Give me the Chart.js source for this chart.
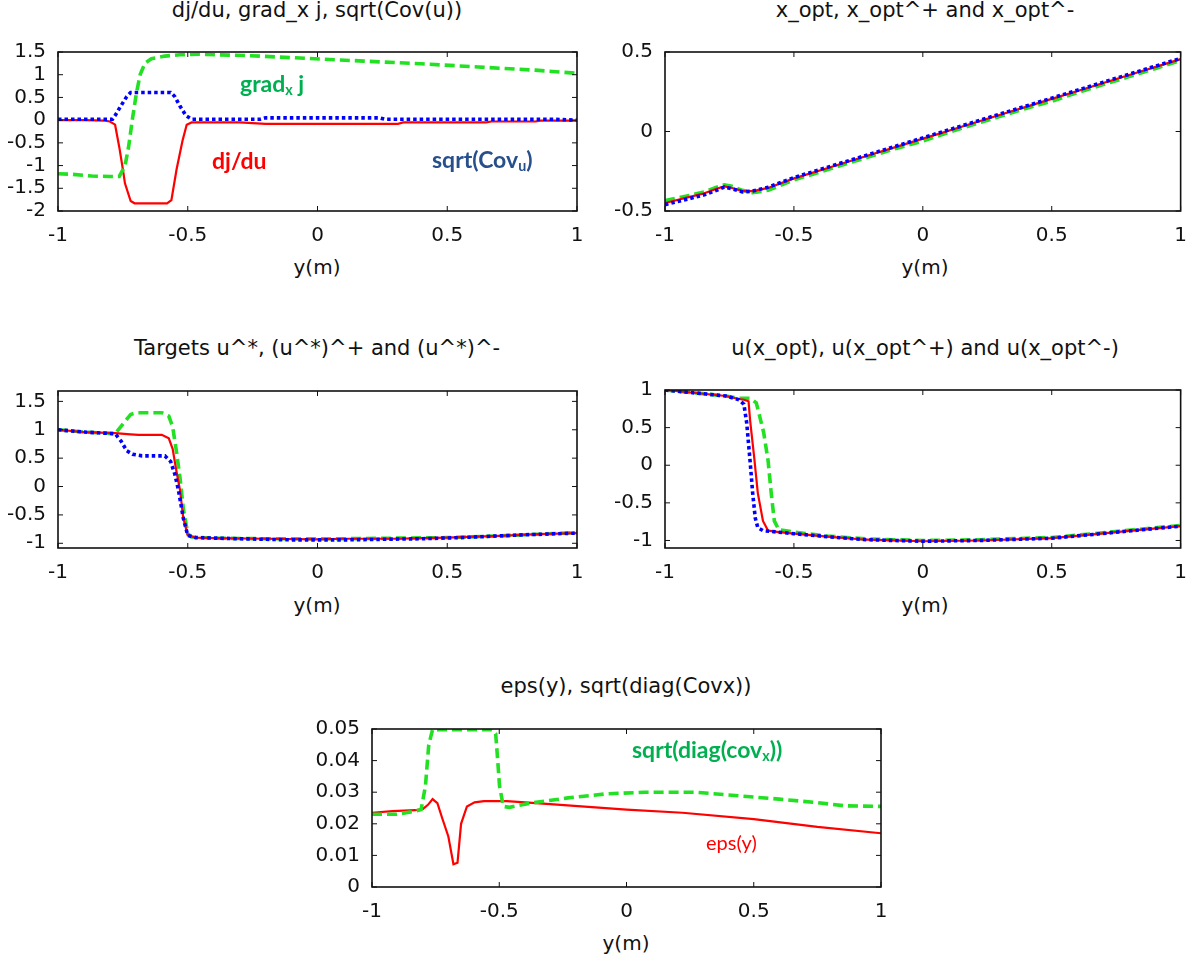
<!DOCTYPE html>
<html>
<head>
<meta charset="utf-8">
<script src="https://cdn.jsdelivr.net/npm/chart.js@4.4.1/dist/chart.umd.min.js"></script>
<style>
  html, body { margin: 0; padding: 0; background: #fff; }
  #wrap { position: relative; width: 1200px; height: 963px; overflow: hidden; }
  canvas { position: absolute; }
  .t { position: absolute; white-space: nowrap; font-family: "DejaVu Sans", sans-serif; color: #111; transform: translateX(-50%); }
  .title { font-size: 21px; line-height: 21px; }
  .ax { font-size: 20px; line-height: 20px; }
  .ann { position: absolute; white-space: nowrap; font-family: Lato, "Open Sans", sans-serif; font-size: 23px; line-height: 23px; font-weight: bold; }
  .ann sub { font-size: 0.62em; vertical-align: -0.2em; line-height: 0; }
</style>
</head>
<body>
<div id="wrap">
  <canvas id="c1"></canvas>
  <canvas id="c2"></canvas>
  <canvas id="c3"></canvas>
  <canvas id="c4"></canvas>
  <canvas id="c5"></canvas>

  <div class="t title" style="left:317px; top:0px;">dj/du, grad_x j, sqrt(Cov(u))</div>
  <div class="t title" style="left:925px; top:0px;">x_opt, x_opt^+ and x_opt^-</div>
  <div class="t title" style="left:317px; top:338px;">Targets u^*, (u^*)^+ and (u^*)^-</div>
  <div class="t title" style="left:925px; top:338px;">u(x_opt), u(x_opt^+) and u(x_opt^-)</div>
  <div class="t title" style="left:626px; top:676px;">eps(y), sqrt(diag(Covx))</div>

  <div class="t ax" style="left:317px; top:257px;">y(m)</div>
  <div class="t ax" style="left:925px; top:257px;">y(m)</div>
  <div class="t ax" style="left:317px; top:595px;">y(m)</div>
  <div class="t ax" style="left:925px; top:595px;">y(m)</div>
  <div class="t ax" style="left:626px; top:933px;">y(m)</div>

  <div class="ann" style="left:240px; top:72px; color:#00b050;">grad<sub>x</sub> j</div>
  <div class="ann" style="left:212px; top:149px; color:#ff0000;">dj/du</div>
  <div class="ann" style="left:432px; top:148px; color:#264f8c;">sqrt(Cov<sub>u</sub>)</div>
  <div class="ann" style="left:632px; top:738px; color:#00b050;">sqrt(diag(cov<sub>x</sub>))</div>
  <div class="ann" style="left:706px; top:832px; color:#ff0000; font-weight:normal; font-size:20px; line-height:20px;">eps(y)</div>
</div>
<script>
// ---------- data ----------
const xTicks = [-1, -0.5, 0, 0.5, 1];

// Panel 1: dj/du, grad_x j, sqrt(Cov(u))
const p1RedX  = [-1, -0.9, -0.82, -0.8, -0.78, -0.764, -0.75, -0.742, -0.72, -0.705, -0.65, -0.58, -0.563, -0.543, -0.52, -0.504, -0.485, -0.4, -0.3, -0.2, 0, 0.2, 0.31, 0.33, 0.5, 0.65, 0.67, 0.84, 0.86, 1];
const p1RedY  = [0, 0, -0.01, -0.03, -0.10, -0.59, -1.08, -1.39, -1.78, -1.83, -1.83, -1.83, -1.76, -1.08, -0.45, -0.10, -0.05, -0.05, -0.05, -0.08, -0.08, -0.08, -0.08, -0.05, -0.05, -0.05, -0.03, -0.03, -0.01, -0.01];
const p1BlueX = [-1, -0.9, -0.79, -0.78, -0.757, -0.735, -0.72, -0.65, -0.566, -0.55, -0.53, -0.507, -0.485, -0.4, -0.22, -0.2, 0, 0.24, 0.26, 0.5, 0.9, 1];
const p1BlueY = [0.02, 0.02, 0.02, 0.10, 0.32, 0.52, 0.61, 0.61, 0.61, 0.52, 0.31, 0.10, 0.02, 0.02, 0.02, 0.05, 0.05, 0.05, 0.02, 0.02, 0.02, 0.0];
const p1GreenX = [-1, -0.95, -0.87, -0.8, -0.764, -0.742, -0.728, -0.713, -0.698, -0.683, -0.664, -0.64, -0.588, -0.53, -0.455, -0.264, -0.043, 0.178, 0.40, 0.62, 0.84, 1];
const p1GreenY = [-1.18, -1.19, -1.23, -1.24, -1.24, -1.01, -0.59, 0.03, 0.59, 1.01, 1.26, 1.35, 1.41, 1.44, 1.45, 1.42, 1.36, 1.30, 1.24, 1.17, 1.10, 1.03];
const p1YTicks = [-2, -1.5, -1, -0.5, 0, 0.5, 1, 1.5];

// Panel 2: x_opt, x_opt^+, x_opt^-
const p2X     = [-1, -0.9, -0.85, -0.8, -0.77, -0.74, -0.7, -0.66, -0.6, -0.5, -0.4, -0.3, -0.2, -0.1, 0, 0.1, 0.2, 0.3, 0.4, 0.5, 0.6, 0.7, 0.8, 0.9, 1];
const p2Blue  = [-0.46, -0.42, -0.40, -0.37, -0.35, -0.36, -0.38, -0.375, -0.35, -0.29, -0.24, -0.19, -0.14, -0.09, -0.04, 0.01, 0.06, 0.11, 0.16, 0.21, 0.26, 0.31, 0.36, 0.41, 0.46];
const p2Red   = [-0.45, -0.41, -0.39, -0.36, -0.345, -0.355, -0.375, -0.375, -0.355, -0.295, -0.245, -0.195, -0.145, -0.095, -0.045, 0.005, 0.055, 0.105, 0.155, 0.205, 0.255, 0.305, 0.355, 0.405, 0.455];
const p2Green = [-0.435, -0.40, -0.38, -0.35, -0.335, -0.345, -0.37, -0.385, -0.37, -0.305, -0.255, -0.205, -0.155, -0.105, -0.06, -0.005, 0.045, 0.095, 0.145, 0.19, 0.245, 0.295, 0.345, 0.395, 0.446];
const p2YTicks = [-0.5, 0, 0.5];

// Panel 3: targets
const p3RedX  = [-1, -0.9, -0.78, -0.72, -0.69, -0.6, -0.573, -0.558, -0.546, -0.53, -0.517, -0.5, -0.47, -0.4, -0.2, 0, 0.1, 0.3, 0.5, 0.7, 0.85, 1];
const p3RedY  = [1.0, 0.96, 0.94, 0.92, 0.91, 0.91, 0.85, 0.66, 0.33, -0.06, -0.56, -0.86, -0.90, -0.91, -0.92, -0.93, -0.92, -0.92, -0.90, -0.87, -0.84, -0.82];
const p3GreenX = [-1, -0.9, -0.78, -0.75, -0.72, -0.698, -0.6, -0.573, -0.558, -0.543, -0.53, -0.517, -0.5, -0.485, -0.4, -0.2, 0, 0.1, 0.3, 0.5, 0.7, 0.85, 1];
const p3GreenY = [1.0, 0.96, 0.93, 1.10, 1.27, 1.30, 1.30, 1.24, 1.05, 0.60, 0.16, -0.39, -0.83, -0.89, -0.91, -0.92, -0.92, -0.92, -0.91, -0.90, -0.87, -0.84, -0.81];
const p3BlueX = [-1, -0.9, -0.78, -0.757, -0.735, -0.713, -0.676, -0.588, -0.566, -0.55, -0.536, -0.517, -0.5, -0.47, -0.3, -0.1, 0, 0.1, 0.4, 0.55, 0.65, 0.8, 1];
const p3BlueY = [1.0, 0.96, 0.93, 0.80, 0.63, 0.57, 0.54, 0.54, 0.44, 0.22, -0.06, -0.56, -0.86, -0.90, -0.92, -0.94, -0.94, -0.94, -0.92, -0.90, -0.88, -0.85, -0.82];
const p3YTicks = [-1, -0.5, 0, 0.5, 1, 1.5];

// Panel 4: u(x_opt), u(x_opt^+), u(x_opt^-)
const p4BlueX = [-1, -0.88, -0.764, -0.713, -0.694, -0.683, -0.67, -0.66, -0.65, -0.64, -0.62, -0.558, -0.5, -0.37, -0.22, 0, 0.22, 0.5, 0.66, 0.81, 1];
const p4BlueY = [1.0, 0.96, 0.92, 0.87, 0.81, 0.56, 0.055, -0.37, -0.70, -0.83, -0.87, -0.89, -0.91, -0.95, -0.99, -1.01, -1.00, -0.97, -0.92, -0.87, -0.81];
const p4RedX  = [-1, -0.88, -0.764, -0.713, -0.694, -0.676, -0.67, -0.654, -0.64, -0.62, -0.6, -0.558, -0.5, -0.37, -0.22, 0, 0.22, 0.5, 0.66, 0.81, 1];
const p4RedY  = [1.0, 0.96, 0.92, 0.88, 0.87, 0.85, 0.60, 0.10, -0.37, -0.74, -0.87, -0.89, -0.91, -0.95, -0.99, -1.01, -1.00, -0.97, -0.92, -0.87, -0.81];
const p4GreenX = [-1, -0.88, -0.764, -0.713, -0.67, -0.646, -0.632, -0.617, -0.6, -0.588, -0.576, -0.558, -0.53, -0.5, -0.37, -0.22, 0, 0.22, 0.5, 0.66, 0.81, 1];
const p4GreenY = [1.0, 0.96, 0.92, 0.89, 0.89, 0.83, 0.64, 0.43, 0.055, -0.37, -0.74, -0.86, -0.87, -0.89, -0.94, -0.98, -1.00, -0.99, -0.96, -0.91, -0.86, -0.80];
const p4YTicks = [-1, -0.5, 0, 0.5, 1];

// Panel 5: eps(y), sqrt(diag(Covx))
const p5RedX  = [-1, -0.92, -0.83, -0.80, -0.78, -0.762, -0.743, -0.725, -0.70, -0.68, -0.664, -0.65, -0.627, -0.597, -0.56, -0.47, -0.30, 0, 0.22, 0.5, 0.75, 1];
const p5RedY  = [0.0235, 0.024, 0.0243, 0.0247, 0.026, 0.0278, 0.0265, 0.022, 0.016, 0.0072, 0.0077, 0.020, 0.0255, 0.0268, 0.0272, 0.0272, 0.0262, 0.0245, 0.0235, 0.0215, 0.019, 0.017];
const p5GreenX = [-1, -0.905, -0.83, -0.807, -0.79, -0.777, -0.762, -0.6, -0.529, -0.514, -0.506, -0.499, -0.484, -0.46, -0.38, -0.23, -0.077, 0.073, 0.27, 0.45, 0.60, 0.75, 0.855, 1];
const p5GreenY = [0.023, 0.023, 0.024, 0.0245, 0.032, 0.045, 0.0498, 0.0498, 0.0498, 0.0485, 0.040, 0.032, 0.0255, 0.0252, 0.0265, 0.0282, 0.0295, 0.030, 0.030, 0.0288, 0.0278, 0.0267, 0.0257, 0.0255];
const p5YTicks = [0, 0.01, 0.02, 0.03, 0.04, 0.05];

// ---------- helpers ----------
const RED = '#ff0000', GREEN = '#22e022', BLUE = '#0000ff';
const pts = (xs, ys) => xs.map((x, i) => ({ x: x, y: ys[i] }));
const redSet   = d => ({ data: d, borderColor: RED,   borderWidth: 2.2, pointRadius: 0, tension: 0 });
const greenSet = d => ({ data: d, borderColor: GREEN, borderWidth: 3.6, borderDash: [10, 5], pointRadius: 0, tension: 0 });
const blueSet  = d => ({ data: d, borderColor: BLUE,  borderWidth: 3.6, borderDash: [3.5, 3], pointRadius: 0, tension: 0 });

const framePlugin = {
  id: 'frame',
  afterDatasetsDraw(chart) {
    const { ctx, chartArea: a, scales: { x, y } } = chart;
    ctx.save();
    ctx.strokeStyle = '#111';
    ctx.lineWidth = 1;
    ctx.beginPath();
    x.ticks.forEach(t => {
      const px = x.getPixelForValue(t.value);
      ctx.moveTo(px, a.bottom); ctx.lineTo(px, a.bottom - 5);
      ctx.moveTo(px, a.top); ctx.lineTo(px, a.top + 5);
    });
    y.ticks.forEach(t => {
      const py = y.getPixelForValue(t.value);
      ctx.moveTo(a.left, py); ctx.lineTo(a.left + 5, py);
      ctx.moveTo(a.right, py); ctx.lineTo(a.right - 5, py);
    });
    ctx.stroke();
    ctx.lineWidth = 1.6;
    ctx.strokeRect(a.left, a.top, a.right - a.left, a.bottom - a.top);
    ctx.restore();
  }
};

function makePanel(id, g, datasets, yMin, yMax, yTicks) {
  const cv = document.getElementById(id);
  const padTop = 15, padRight = g.padRight, xH = 40;
  cv.style.left = g.cl + 'px';
  cv.style.top = (g.top - padTop) + 'px';
  cv.width = g.right + padRight - g.cl;
  cv.height = g.bottom + xH - (g.top - padTop);
  new Chart(cv, {
    type: 'line',
    data: { datasets: datasets },
    options: {
      responsive: false,
      animation: false,
      devicePixelRatio: 1,
      layout: { padding: { top: padTop, right: padRight, left: 0, bottom: 0 } },
      plugins: { legend: { display: false }, tooltip: { enabled: false }, title: { display: false } },
      scales: {
        x: {
          type: 'linear', min: -1, max: 1,
          afterBuildTicks: s => { s.ticks = xTicks.map(v => ({ value: v })); },
          afterFit: s => { s.height = xH; },
          grid: { display: false, drawTicks: false },
          border: { display: false },
          ticks: { padding: 13, autoSkip: false, color: '#111', font: { family: 'DejaVu Sans', size: 20 }, maxRotation: 0,
                   callback: v => String(v) }
        },
        y: {
          type: 'linear', min: yMin, max: yMax,
          afterBuildTicks: s => { s.ticks = yTicks.map(v => ({ value: v })); },
          afterFit: s => { s.width = g.left - g.cl; },
          grid: { display: false, drawTicks: false },
          border: { display: false },
          ticks: { padding: 12, autoSkip: false, color: '#111', font: { family: 'DejaVu Sans', size: 20 },
                   callback: v => String(v) }
        }
      }
    },
    plugins: [framePlugin]
  });
}

makePanel('c1', { cl: 0, left: 58, top: 43, right: 577, bottom: 211, padRight: 20 },
  [blueSet(pts(p1BlueX, p1BlueY)), greenSet(pts(p1GreenX, p1GreenY)), redSet(pts(p1RedX, p1RedY))],
  -2, 1.5, p1YTicks);

makePanel('c2', { cl: 600, left: 665, top: 43, right: 1186, bottom: 211, padRight: 14 },
  [blueSet(pts(p2X, p2Blue)), redSet(pts(p2X, p2Red)), greenSet(pts(p2X, p2Green))],
  -0.5, 0.5, p2YTicks);

makePanel('c3', { cl: 0, left: 58, top: 382, right: 577, bottom: 548, padRight: 20 },
  [blueSet(pts(p3BlueX, p3BlueY)), redSet(pts(p3RedX, p3RedY)), greenSet(pts(p3GreenX, p3GreenY))],
  -1.083, 1.683, p3YTicks);

makePanel('c4', { cl: 600, left: 665, top: 381, right: 1186, bottom: 548, padRight: 14 },
  [blueSet(pts(p4BlueX, p4BlueY)), redSet(pts(p4RedX, p4RedY)), greenSet(pts(p4GreenX, p4GreenY))],
  -1.1, 1.0, p4YTicks);

makePanel('c5', { cl: 300, left: 372, top: 720, right: 881, bottom: 887, padRight: 20 },
  [greenSet(pts(p5GreenX, p5GreenY)), redSet(pts(p5RedX, p5RedY))],
  0, 0.05, p5YTicks);
</script>
</body>
</html>
